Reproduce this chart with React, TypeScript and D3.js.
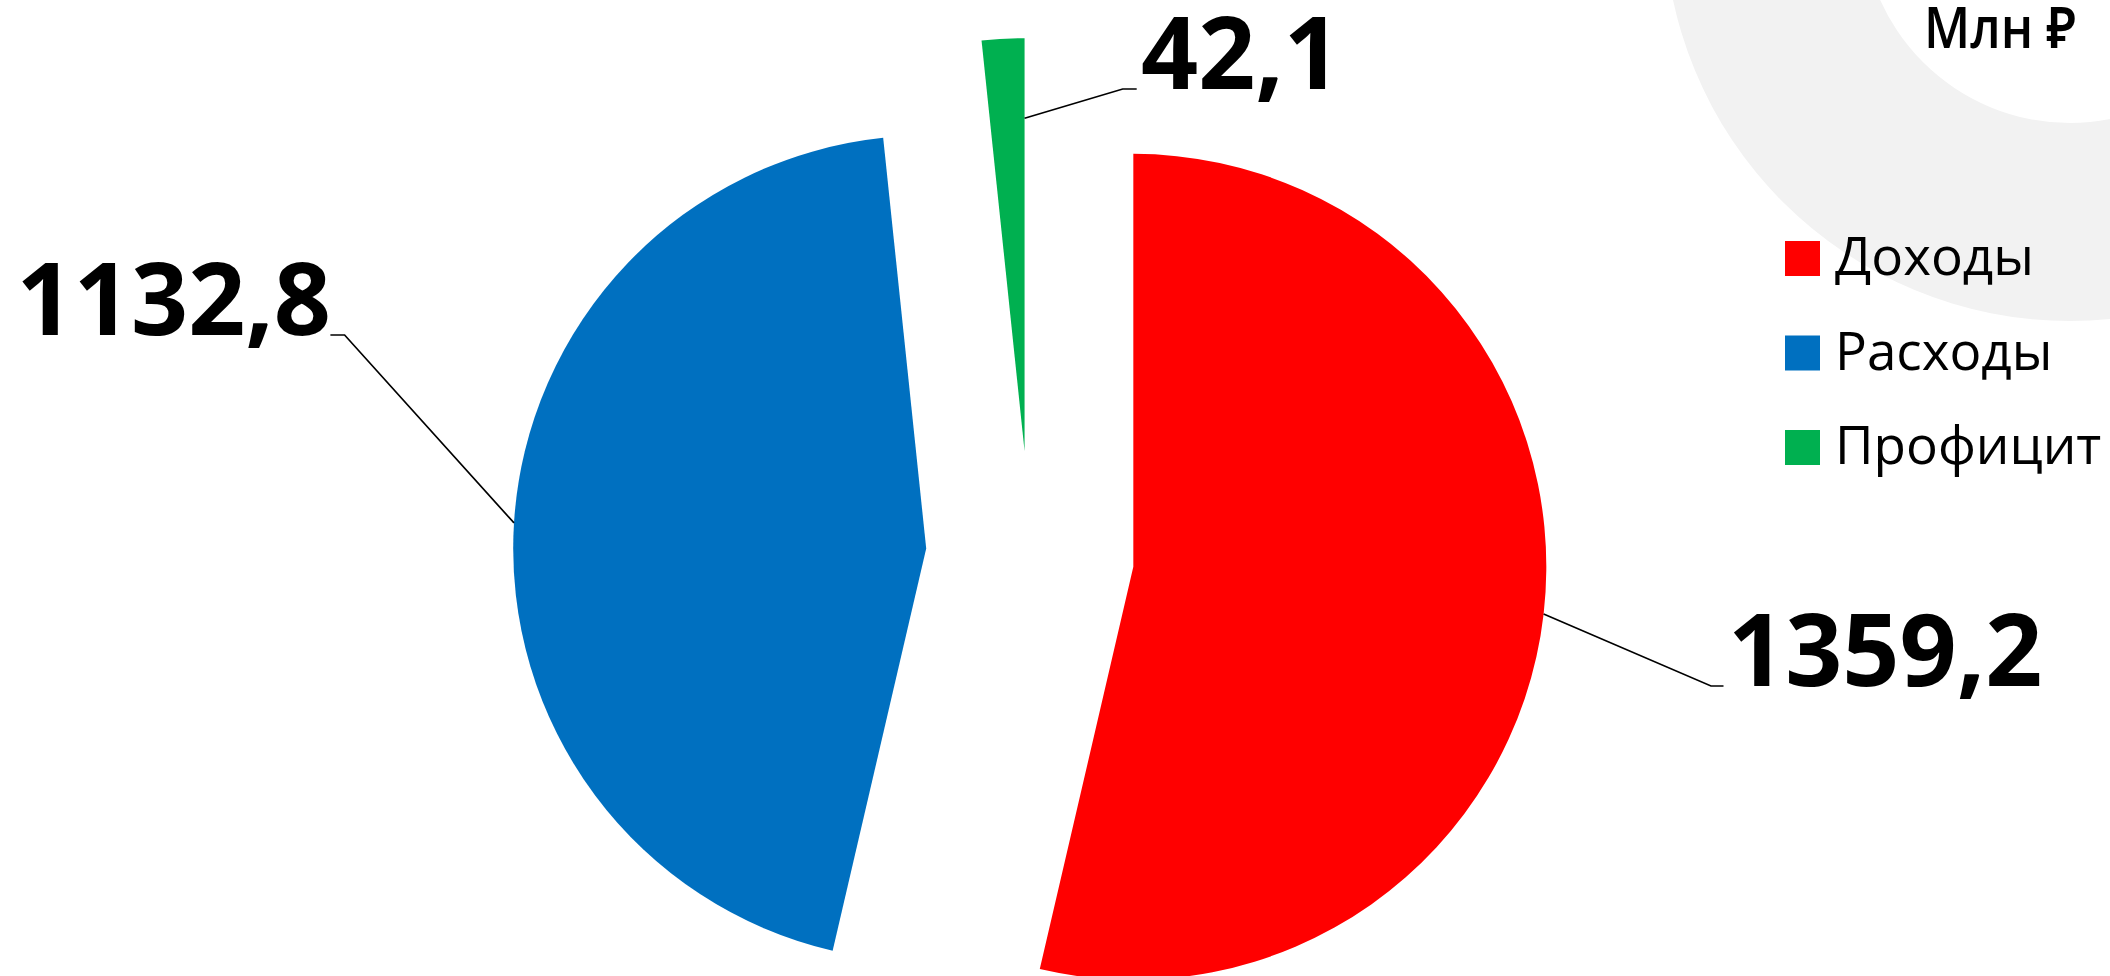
import React from "react";
import * as d3 from "d3";

const categories = ["Доходы", "Расходы", "Профицит"];
const values = [1359.2, 1132.8, 42.1];
const valueLabels = ["1359,2", "1132,8", "42,1"];
const colors = ["#FF0000", "#0070C0", "#00B050"];
const unitLabel = "Млн ₽";

const W = 2110;
const H = 976;
const CX = 1030;
const CY = 555;
const R = 413;
const EXPLODE = 104;

// leader layout: where on the slice the leader starts, and where the label sits
const leaderLayout = [
  { t: 0.5, rf: 1.0, bend: [1711, 686], end: [1723.5, 686], text: [1728, 686], anchor: "start" },
  { t: 0.5, rf: 1.0, bend: [344.6, 335], end: [330.4, 335], text: [331, 335], anchor: "end" },
  { t: 1.0, rf: 0.806, bend: [1122.7, 89], end: [1136.7, 89], text: [1141, 89], anchor: "start" },
];

export default function App() {
  const pie = d3.pie<number>().sort(null).startAngle(0).endAngle(2 * Math.PI);
  const arcs = pie(values);
  const arcGen = d3.arc<d3.PieArcDatum<number>>().innerRadius(0).outerRadius(R);

  const ring = d3.arc()({ innerRadius: 208, outerRadius: 406, startAngle: 0, endAngle: 2 * Math.PI }) as string;

  const legendX = 1785;
  const legendY0 = 241;
  const legendStep = 94.5;

  return (
    <svg
      width={W}
      height={H}
      style={{ position: "absolute", left: 0, top: 0, background: "#fff" }}
      fontFamily="'Open Sans', 'Noto Sans', sans-serif"
    >
      <path d={ring} transform="translate(2070,-85)" fill="#F2F2F2" />
      {arcs.map((a, i) => {
        const mid = (a.startAngle + a.endAngle) / 2;
        const ox = CX + Math.sin(mid) * EXPLODE;
        const oy = CY - Math.cos(mid) * EXPLODE;
        return (
          <path
            key={categories[i]}
            d={arcGen(a) as string}
            transform={`translate(${ox},${oy})`}
            fill={colors[i]}
          />
        );
      })}
      {arcs.map((a, i) => {
        const mid = (a.startAngle + a.endAngle) / 2;
        const ox = CX + Math.sin(mid) * EXPLODE;
        const oy = CY - Math.cos(mid) * EXPLODE;
        const L = leaderLayout[i];
        const ang = a.startAngle + (a.endAngle - a.startAngle) * L.t;
        const sx = ox + Math.sin(ang) * R * L.rf;
        const sy = oy - Math.cos(ang) * R * L.rf;
        const pts: [number, number][] = [
          [sx, sy],
          [L.bend[0], L.bend[1]],
          [L.end[0], L.end[1]],
        ];
        return (
          <g key={"lbl" + i}>
            <path d={d3.line()(pts) as string} fill="none" stroke="#000" strokeWidth={1.7} />
            <text
              x={L.text[0]}
              y={L.text[1]}
              textAnchor={L.anchor as any}
              fontSize={100}
              fontWeight={700}
              fill="#000"
            >
              {valueLabels[i]}
            </text>
          </g>
        );
      })}
      <text
        x={1924}
        y={48}
        fontSize={58}
        fontWeight={600}
        textLength={152}
        lengthAdjust="spacingAndGlyphs"
        fill="#000"
      >
        {unitLabel}
      </text>
      {categories.map((c, i) => (
        <g key={"leg" + i} transform={`translate(${legendX},${legendY0 + i * legendStep})`}>
          <rect x={0} y={0} width={35} height={35} fill={colors[i]} />
          <text x={50} y={34} fontSize={53} fill="#000">
            {c}
          </text>
        </g>
      ))}
    </svg>
  );
}
